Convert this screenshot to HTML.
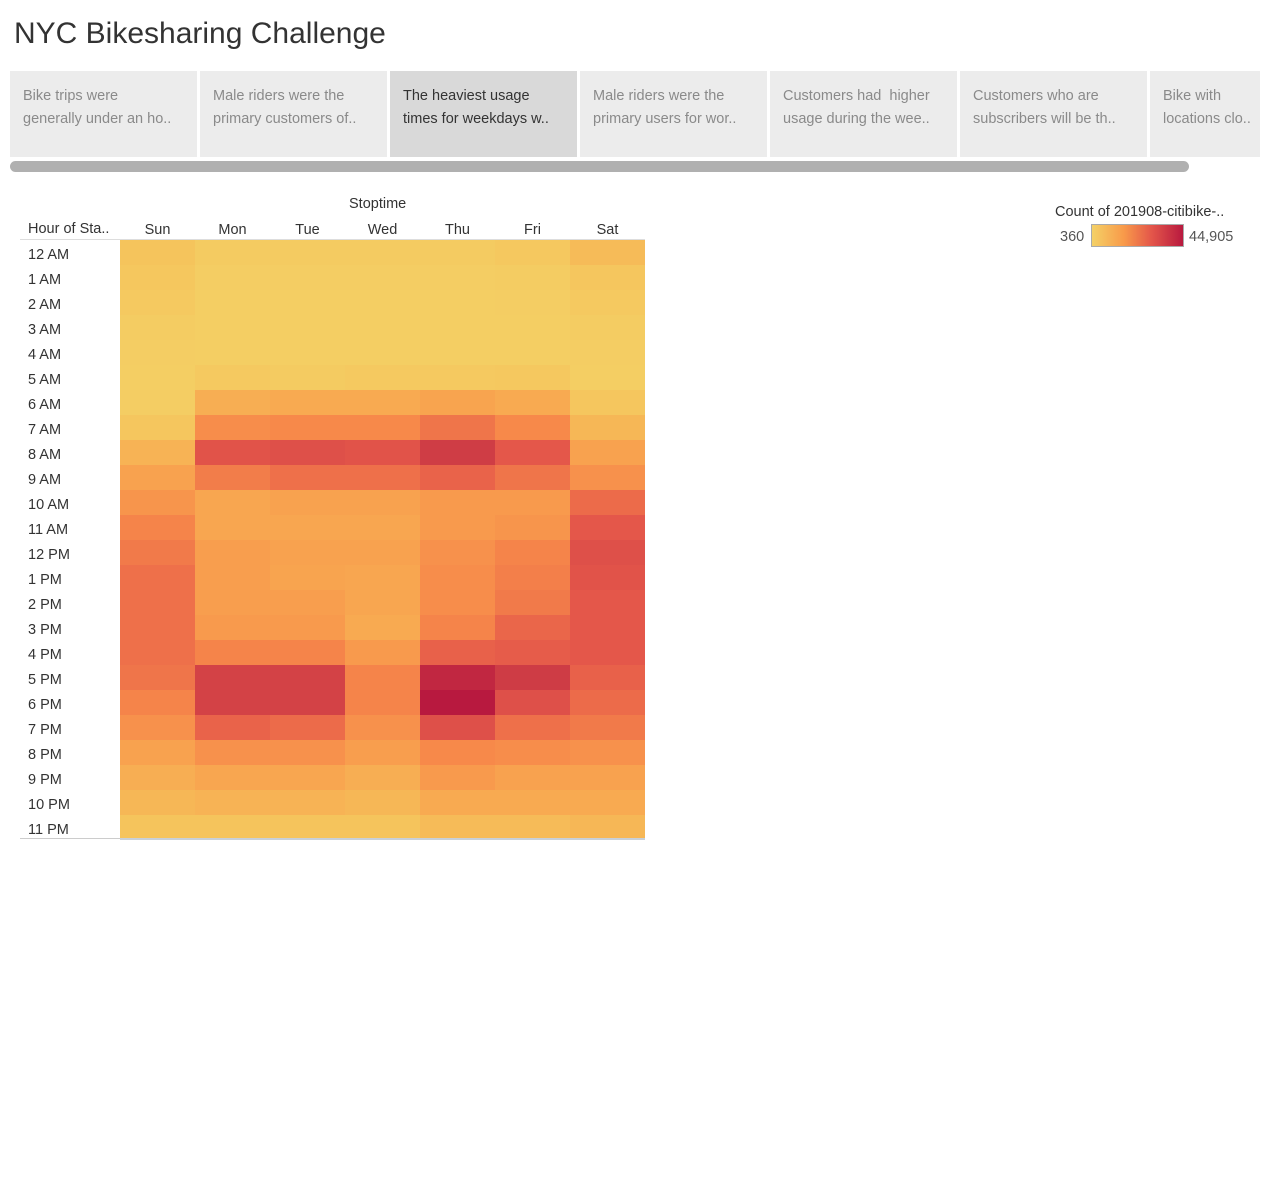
<!DOCTYPE html>
<html><head><meta charset="utf-8"><style>
body{margin:0;width:1269px;height:1204px;background:#fff;font-family:"Liberation Sans",sans-serif;position:relative;overflow:hidden}
.abs{position:absolute}
.tab{position:absolute;top:71px;height:86px;width:187px;background:#ececec;color:#8a8a8a;font-size:14.5px;line-height:23px;padding:14px 0 0 13px;box-sizing:border-box;overflow:hidden;white-space:nowrap}
.tab.sel{background:#d9d9d9;color:#333}
.lbl{position:absolute;font-size:14.5px;color:#333}
</style></head><body>
<div class="abs" style="left:14px;top:17px;font-size:30px;color:#333">NYC Bikesharing Challenge</div>
<div class="tab" style="left:10px">Bike trips were<br>generally under an ho..</div>
<div class="tab" style="left:200px">Male riders were the<br>primary customers of..</div>
<div class="tab sel" style="left:390px">The heaviest usage<br>times for weekdays w..</div>
<div class="tab" style="left:580px">Male riders were the<br>primary users for wor..</div>
<div class="tab" style="left:770px">Customers had &nbsp;higher<br>usage during the wee..</div>
<div class="tab" style="left:960px">Customers who are<br>subscribers will be th..</div>
<div class="tab" style="left:1150px;width:110px">Bike with<br>locations clo..</div>
<div class="abs" style="left:10px;top:161px;width:1179px;height:11px;border-radius:6px;background:#b0b0b0"></div>
<div class="lbl" style="left:349px;top:196px">Stoptime</div>
<div class="lbl" style="left:28px;top:221px">Hour of Sta..</div>
<div class="lbl" style="left:1055px;top:204px">Count of 201908-citibike-..</div>
<div class="lbl" style="left:1060px;top:229px;color:#555">360</div>
<div class="abs" style="left:1091px;top:224px;width:91px;height:21px;border:1px solid #aaa;background:linear-gradient(90deg,#f4d166,#f89a4a 35%,#e4574a 65%,#b8193f)"></div>
<div class="lbl" style="left:1189px;top:229px;color:#555">44,905</div>
<svg class="abs" style="left:0;top:0" width="1269" height="1204" id="hm"></svg>
<script>
const days=["Sun","Mon","Tue","Wed","Thu","Fri","Sat"];
const hours=["12 AM","1 AM","2 AM","3 AM","4 AM","5 AM","6 AM","7 AM","8 AM","9 AM","10 AM","11 AM","12 PM","1 PM","2 PM","3 PM","4 PM","5 PM","6 PM","7 PM","8 PM","9 PM","10 PM","11 PM"];
const minCount=360, maxCount=44905;
const counts=[
[5700,3000,3000,3000,3000,3900,7500],
[4400,2100,2100,2100,2100,2600,4800],
[3500,1700,1700,1700,1700,2100,3500],
[2600,1700,1700,1700,1700,1700,2600],
[2100,1700,1700,1700,1700,1700,2100],
[1700,3500,3000,3500,3500,3900,1700],
[2100,10200,11000,11000,12400,11000,4800],
[4800,17300,18200,18200,21700,18200,8400],
[9300,28000,28900,28000,33800,27100,12800],
[12800,20400,22600,22600,24900,21700,16400],
[15500,12000,12800,12800,14600,14600,23500],
[19100,12000,12000,12000,14600,15500,27100],
[20900,13700,12800,12800,16400,19100,28900],
[22600,13700,12400,12000,17300,20000,28000],
[22600,13700,13700,12000,17300,20900,27100],
[22600,14600,14600,11000,19100,24400,27100],
[22600,19100,19100,14600,25300,26200,27100],
[21700,32400,32400,19100,40500,34200,25300],
[19100,32400,32400,19100,44905,28900,23500],
[16400,24900,23500,16400,28900,22600,20900],
[12800,16400,16400,13700,18200,17300,16400],
[10200,12000,12000,10200,14600,12800,12800],
[8400,9300,9300,8400,11000,11000,11000],
[5700,5700,5700,5700,7500,7500,8400]];
const x0=120,cw=75,y0=240,rh=25;
const xS=i=>x0+i*cw, yS=j=>y0+j*rh;
const stops=[[0,[244,209,102]],[0.12,[245,196,92]],[0.25,[248,168,80]],[0.4,[247,137,74]],[0.6,[228,87,74]],[0.75,[207,61,69]],[1,[184,25,63]]];
function col(v){let t=(v-minCount)/(maxCount-minCount);t=Math.max(0,Math.min(1,t));
for(let k=1;k<stops.length;k++){if(t<=stops[k][0]){const a=stops[k-1],b=stops[k],u=(t-a[0])/(b[0]-a[0]);
return 'rgb('+a[1].map((c,i)=>Math.round(c+(b[1][i]-c)*u)).join(',')+')';}}return 'rgb(184,25,63)';}
const svg=document.getElementById('hm'),NS='http://www.w3.org/2000/svg';
function mk(t,a){const e=document.createElementNS(NS,t);for(const k in a)e.setAttribute(k,a[k]);svg.appendChild(e);return e;}
days.forEach((d,i)=>{const t=mk('text',{x:xS(i)+cw/2,y:234,'text-anchor':'middle','font-size':'14.5','fill':'#333','font-family':'Liberation Sans, sans-serif'});t.textContent=d;

});
hours.forEach((h,j)=>{const t=mk('text',{x:28,y:yS(j)+19,'font-size':'14.5','fill':'#333','font-family':'Liberation Sans, sans-serif'});t.textContent=h;


counts[j].forEach((v,i)=>{const r=mk('rect',{x:xS(i),y:yS(j),width:cw,height:rh,fill:col(v)});

});});
let l=mk('line',{x1:20,x2:645,y1:239.5,y2:239.5,stroke:'#ddd'});


l=mk('line',{x1:20,x2:120,y1:838.5,y2:838.5,stroke:'#ccc'});


l=mk('line',{x1:120,x2:645,y1:839,y2:839,stroke:'#c8d0d8','stroke-width':2});


</script>
</body></html>
